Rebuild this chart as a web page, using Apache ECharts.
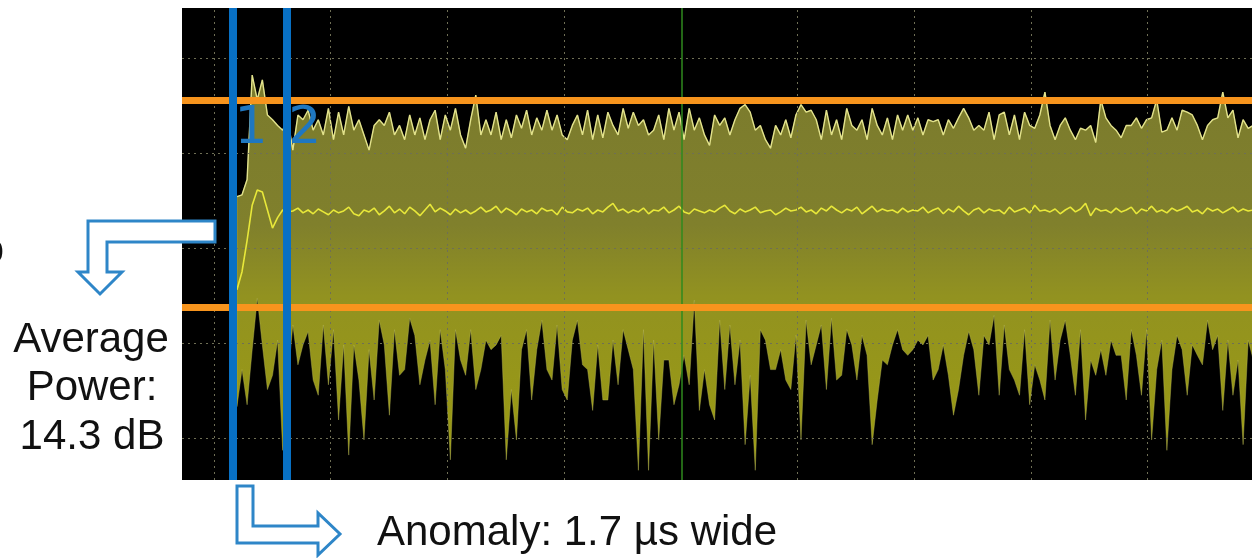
<!DOCTYPE html>
<html>
<head>
<meta charset="utf-8">
<script src="https://cdn.jsdelivr.net/npm/echarts@6/dist/echarts.min.js"></script>
<style>
  html, body { margin: 0; padding: 0; background: #fff; }
  #chart { width: 1252px; height: 558px; }
</style>
</head>
<body>
<div id="chart"></div>
<script>
// time axis in µs, level axis in dB
var sampleStart = 1.73;
var sampleStep = 0.16;

var maxTrace = [
  35.4, 35.6, 37.2, 48.2, 45.6, 47.7, 44.0, 43.5, 42.9, 42.4,
  43.5, 40.3, 44.0, 43.5, 44.5, 42.4, 43.5, 41.9, 44.7, 41.4,
  44.3, 41.9, 44.9, 42.4, 43.5, 41.9, 40.3, 42.9, 43.5, 42.9,
  44.3, 41.9, 42.9, 41.4, 44.0, 41.9, 43.7, 41.4, 43.5, 44.5,
  41.4, 44.0, 42.4, 44.7, 41.9, 40.5, 43.5, 46.1, 41.9, 43.5,
  41.9, 44.3, 41.4, 43.5, 41.6, 44.0, 42.6, 44.5, 41.9, 43.7,
  42.4, 44.5, 42.4, 44.0, 41.9, 41.4, 42.9, 44.0, 41.9, 44.5,
  41.4, 44.0, 41.6, 44.3, 42.9, 41.9, 44.7, 42.6, 44.3, 42.9,
  43.5, 41.9, 42.4, 44.0, 41.4, 44.7, 42.4, 44.3, 41.4, 44.7,
  42.4, 43.7, 41.9, 40.8, 44.0, 42.9, 43.7, 41.9, 43.5, 44.7,
  45.1, 44.3, 42.4, 42.9, 41.4, 40.5, 42.9, 41.9, 43.5, 41.6,
  44.0, 45.1, 44.3, 44.5, 43.5, 41.4, 44.5, 41.9, 43.5, 41.4,
  44.7, 42.9, 42.4, 43.5, 41.4, 44.7, 42.9, 41.9, 43.7, 41.4,
  44.0, 42.4, 44.0, 42.4, 43.7, 41.9, 43.5, 43.3, 43.5, 41.9,
  43.5, 42.6, 43.7, 44.7, 43.7, 42.4, 42.9, 42.4, 44.3, 41.4,
  44.0, 44.3, 41.9, 44.0, 41.4, 44.3, 42.9, 42.6, 44.0, 46.4,
  42.9, 41.4, 42.9, 43.7, 42.4, 41.4, 42.6, 42.4, 42.9, 41.1,
  45.6, 43.7, 42.9, 42.4, 41.6, 42.9, 42.9, 43.7, 42.6, 43.5,
  43.7, 45.6, 42.2, 42.4, 43.7, 42.4, 44.5, 44.3, 44.0, 42.9,
  41.4, 42.9, 43.5, 43.7, 46.4, 43.7, 44.5, 41.6, 43.5, 42.6,
  42.9
];

var minTrace = [
  13.3, 17.2, 13.5, 19.3, 24.7, 19.8, 15.1, 16.6, 20.3, 8.7,
  16.1, 21.9, 17.7, 19.8, 21.2, 16.1, 14.5, 21.9, 15.6, 21.4,
  11.9, 19.8, 8.2, 19.8, 16.1, 9.8, 19.3, 14.0, 22.4, 19.8,
  12.4, 21.4, 16.6, 17.2, 22.6, 20.8, 15.6, 18.2, 20.3, 13.5,
  21.4, 17.2, 7.7, 21.4, 18.2, 16.6, 21.4, 15.1, 17.2, 20.3,
  19.3, 19.8, 20.8, 7.7, 15.1, 9.8, 19.3, 21.4, 14.0, 19.3,
  22.4, 17.2, 16.1, 21.9, 15.1, 14.0, 20.3, 22.4, 17.7, 17.2,
  12.9, 19.8, 14.0, 14.0, 20.3, 15.6, 21.4, 19.3, 17.2, 6.6,
  21.4, 6.6, 20.3, 9.8, 18.2, 18.2, 13.5, 15.6, 18.7, 15.6,
  24.5, 12.9, 17.2, 13.5, 11.9, 22.4, 15.1, 21.9, 15.6, 20.3,
  9.3, 16.6, 6.6, 21.4, 20.3, 17.2, 17.2, 19.3, 16.1, 15.1,
  20.8, 9.8, 22.4, 17.7, 19.8, 21.9, 15.1, 22.6, 16.1, 16.6,
  21.4, 19.8, 16.1, 20.8, 18.7, 9.3, 14.0, 18.2, 17.7, 19.8,
  21.4, 19.3, 18.7, 19.3, 20.3, 19.8, 20.8, 16.1, 17.2, 19.8,
  16.6, 12.4, 15.1, 18.7, 21.2, 19.3, 14.5, 20.8, 19.8, 22.9,
  14.5, 21.9, 17.2, 16.1, 14.5, 21.4, 13.5, 17.7, 16.1, 14.0,
  22.4, 16.1, 20.3, 22.4, 18.7, 14.5, 21.4, 11.9, 18.2, 16.6,
  19.3, 16.6, 20.3, 18.7, 18.7, 14.0, 21.4, 18.7, 14.5, 21.4,
  9.8, 17.2, 20.3, 8.7, 17.2, 20.8, 19.3, 14.5, 19.8, 18.7,
  17.7, 22.4, 19.3, 20.8, 12.9, 20.3, 14.5, 18.2, 9.3, 20.3,
  18.2
];

var avgTrace = [
  25.6, 27.5, 30.8, 34.5, 36.1, 35.9, 34.0, 32.1, 33.2, 34.0, 33.8,
  33.9, 34.2, 33.7, 34.0, 33.6, 34.1, 33.8, 33.5, 34.0, 33.7,
  33.9, 34.3, 33.6, 33.4, 34.0, 33.8, 34.2, 33.5, 33.9, 34.4,
  33.7, 34.1, 33.6, 34.3, 33.9, 33.4, 34.0, 34.6, 33.8, 34.2,
  33.9, 33.5, 34.1, 33.7, 34.0, 33.6, 33.9, 34.3, 33.8, 34.0,
  34.4, 33.7, 34.2, 33.9, 33.5, 34.1, 33.8, 34.0, 33.6, 34.2,
  33.9, 34.0, 33.5, 34.3, 33.8, 33.7, 34.1, 33.9, 34.2, 33.6,
  34.0, 33.8, 34.3, 34.7, 33.9, 34.1, 33.7, 34.0, 33.8, 34.2,
  33.6, 34.0, 33.9, 34.3, 33.7, 34.0, 34.4, 33.8, 33.6, 34.1,
  33.9, 33.7, 34.0, 33.8, 34.2, 34.5, 33.9, 33.6, 34.1, 33.8,
  34.0, 34.3, 33.7, 33.9, 34.0, 33.5, 33.8, 34.2, 33.9, 34.0,
  34.3, 33.8, 34.0, 33.6, 34.2, 33.9, 34.4, 34.0, 33.7, 34.1,
  33.9, 34.3, 33.6, 34.0, 34.4, 33.8, 34.1, 33.9, 34.0, 33.7,
  34.2, 33.8, 34.0, 33.9, 34.3, 33.7, 34.0, 34.2, 33.6, 34.1,
  33.8, 34.4, 33.9, 33.5, 34.0, 34.2, 33.7, 34.1, 33.9, 34.0,
  33.6, 34.3, 33.8, 34.0, 34.2, 33.7, 34.5, 33.9, 34.0, 33.8,
  34.1, 33.6, 34.0, 34.3, 33.8, 34.1, 34.7, 33.4, 34.2, 33.9,
  34.0, 33.7, 34.2, 33.8, 34.0, 34.3, 33.6, 34.1, 33.9, 34.4,
  33.8, 34.0, 33.7, 34.2, 33.9, 34.1, 34.4, 33.8, 34.0, 33.6,
  34.2, 33.9, 34.1, 33.7, 34.0, 34.3, 33.8, 34.1, 33.9, 34.0
];

var cursorTimes = [1.6, 3.3];
var cursorNames = ["1", "2"];
var limitLevels = [45.5, 23.8];
var centerTime = 15.74;
var gridTimes = [1.0, 4.68, 8.35, 12.03, 19.38, 23.05, 26.73, 30.4];
var gridLevels = [10, 20, 30, 40, 50];

var chart = echarts.init(document.getElementById("chart"));

function timeAt(i) {
  return +(sampleStart + i * sampleStep).toFixed(3);
}

function toPoints(values) {
  return values.map(function (v, i) {
    return [timeAt(i), v];
  });
}

var gridLines = gridTimes
  .map(function (t) { return { xAxis: t }; })
  .concat(gridLevels.map(function (v) { return { yAxis: v }; }));

var bandFill = new echarts.graphic.LinearGradient(0, 0, 0, 1, [
  { offset: 0, color: "#7b7b2d" },
  { offset: 0.38, color: "#80802c" },
  { offset: 0.56, color: "#929220" },
  { offset: 1, color: "#9b9b12" },
]);

var option = {
  animation: false,
  backgroundColor: "#fff",
  grid: {
    left: 182,
    right: 0,
    top: 8,
    bottom: 78,
    show: true,
    backgroundColor: "#000",
    borderWidth: 0,
  },
  xAxis: { type: "value", min: 0, max: 33.69, show: false },
  yAxis: { type: "value", min: 5.58, max: 55.26, show: false },
  series: [
    {
      // dotted graticule
      type: "line",
      data: [],
      z: 1,
      markLine: {
        silent: true,
        symbol: ["none", "none"],
        label: { show: false },
        lineStyle: { color: "#6f6f55", type: [2, 4], width: 1 },
        data: gridLines,
      },
    },
    {
      // band between the max hold and min hold traces
      type: "custom",
      coordinateSystem: "cartesian2d",
      data: [[sampleStart, minTrace[0]]],
      clip: true,
      silent: true,
      z: 2,
      renderItem: function (params, api) {
        var pts = [];
        for (var i = 0; i < maxTrace.length; i++) {
          pts.push(api.coord([timeAt(i), maxTrace[i]]));
        }
        for (var j = minTrace.length - 1; j >= 0; j--) {
          pts.push(api.coord([timeAt(j), minTrace[j]]));
        }
        return {
          type: "polygon",
          shape: { points: pts },
          style: { fill: bandFill, stroke: "rgba(190,190,90,0.5)", lineWidth: 0.8 },
        };
      },
    },
    {
      type: "line",
      data: toPoints(maxTrace),
      symbol: "none",
      lineStyle: { color: "#e2e28c", width: 1.4 },
      z: 3,
    },
    {
      type: "line",
      data: toPoints(avgTrace),
      symbol: "none",
      lineStyle: { color: "#e8e83a", width: 1.6 },
      z: 3,
    },
    {
      type: "line",
      data: [],
      z: 4,
      markLine: {
        silent: true,
        symbol: ["none", "none"],
        label: { show: false },
        data: [
          { xAxis: centerTime, lineStyle: { color: "#2f8a1e", width: 1.5, type: "solid" } },
        ].concat(
          limitLevels.map(function (v) {
            return { yAxis: v, lineStyle: { color: "#f7941d", width: 7, type: "solid" } };
          })
        ),
      },
    },
    {
      type: "line",
      data: [],
      z: 5,
      markLine: {
        silent: true,
        symbol: ["none", "none"],
        label: { show: false },
        lineStyle: { color: "#0870c4", width: 8, type: "solid" },
        data: cursorTimes.map(function (t) { return { xAxis: t }; }),
      },
      markPoint: {
        silent: true,
        symbol: "circle",
        symbolSize: 1,
        itemStyle: { color: "rgba(0,0,0,0)" },
        label: {
          show: true,
          position: "inside",
          formatter: function (p) { return p.name; },
          fontFamily: "DejaVu Sans",
          fontSize: 52,
          color: "#1f77c0",
        },
        data: cursorTimes.map(function (t, i) {
          return { name: cursorNames[i], coord: [t + 0.57, 42.5] };
        }),
      },
    },
  ],
  graphic: [
    {
      type: "polygon",
      z: 100,
      shape: {
        points: [[215, 221], [88, 221], [88, 272], [78, 272], [100, 294], [122, 272], [107, 272], [107, 242], [215, 242]],
      },
      style: { fill: "#fff", stroke: "#2e86c8", lineWidth: 3 },
    },
    {
      type: "polygon",
      z: 100,
      shape: {
        points: [[237, 486], [253, 486], [253, 526], [318, 526], [318, 513], [340, 534], [318, 555], [318, 543], [237, 543]],
      },
      style: { fill: "#fff", stroke: "#2e86c8", lineWidth: 3 },
    },
    {
      type: "text",
      z: 100,
      style: { text: "o", x: 4, y: 251, align: "right", verticalAlign: "middle", font: '42px "Liberation Sans"', fill: "#111" },
    },
    {
      type: "text",
      z: 100,
      style: { text: "Average", x: 91, y: 340, align: "center", verticalAlign: "middle", font: '42px "Liberation Sans"', fill: "#111" },
    },
    {
      type: "text",
      z: 100,
      style: { text: "Power:", x: 92, y: 388, align: "center", verticalAlign: "middle", font: '42px "Liberation Sans"', fill: "#111" },
    },
    {
      type: "text",
      z: 100,
      style: { text: "14.3 dB", x: 92, y: 437, align: "center", verticalAlign: "middle", font: '42px "Liberation Sans"', fill: "#111" },
    },
    {
      type: "text",
      z: 100,
      style: { text: "Anomaly: 1.7 µs wide", x: 377, y: 533, align: "left", verticalAlign: "middle", font: '42px "Liberation Sans"', fill: "#111" },
    },
  ],
};

chart.setOption(option);
</script>
</body>
</html>
